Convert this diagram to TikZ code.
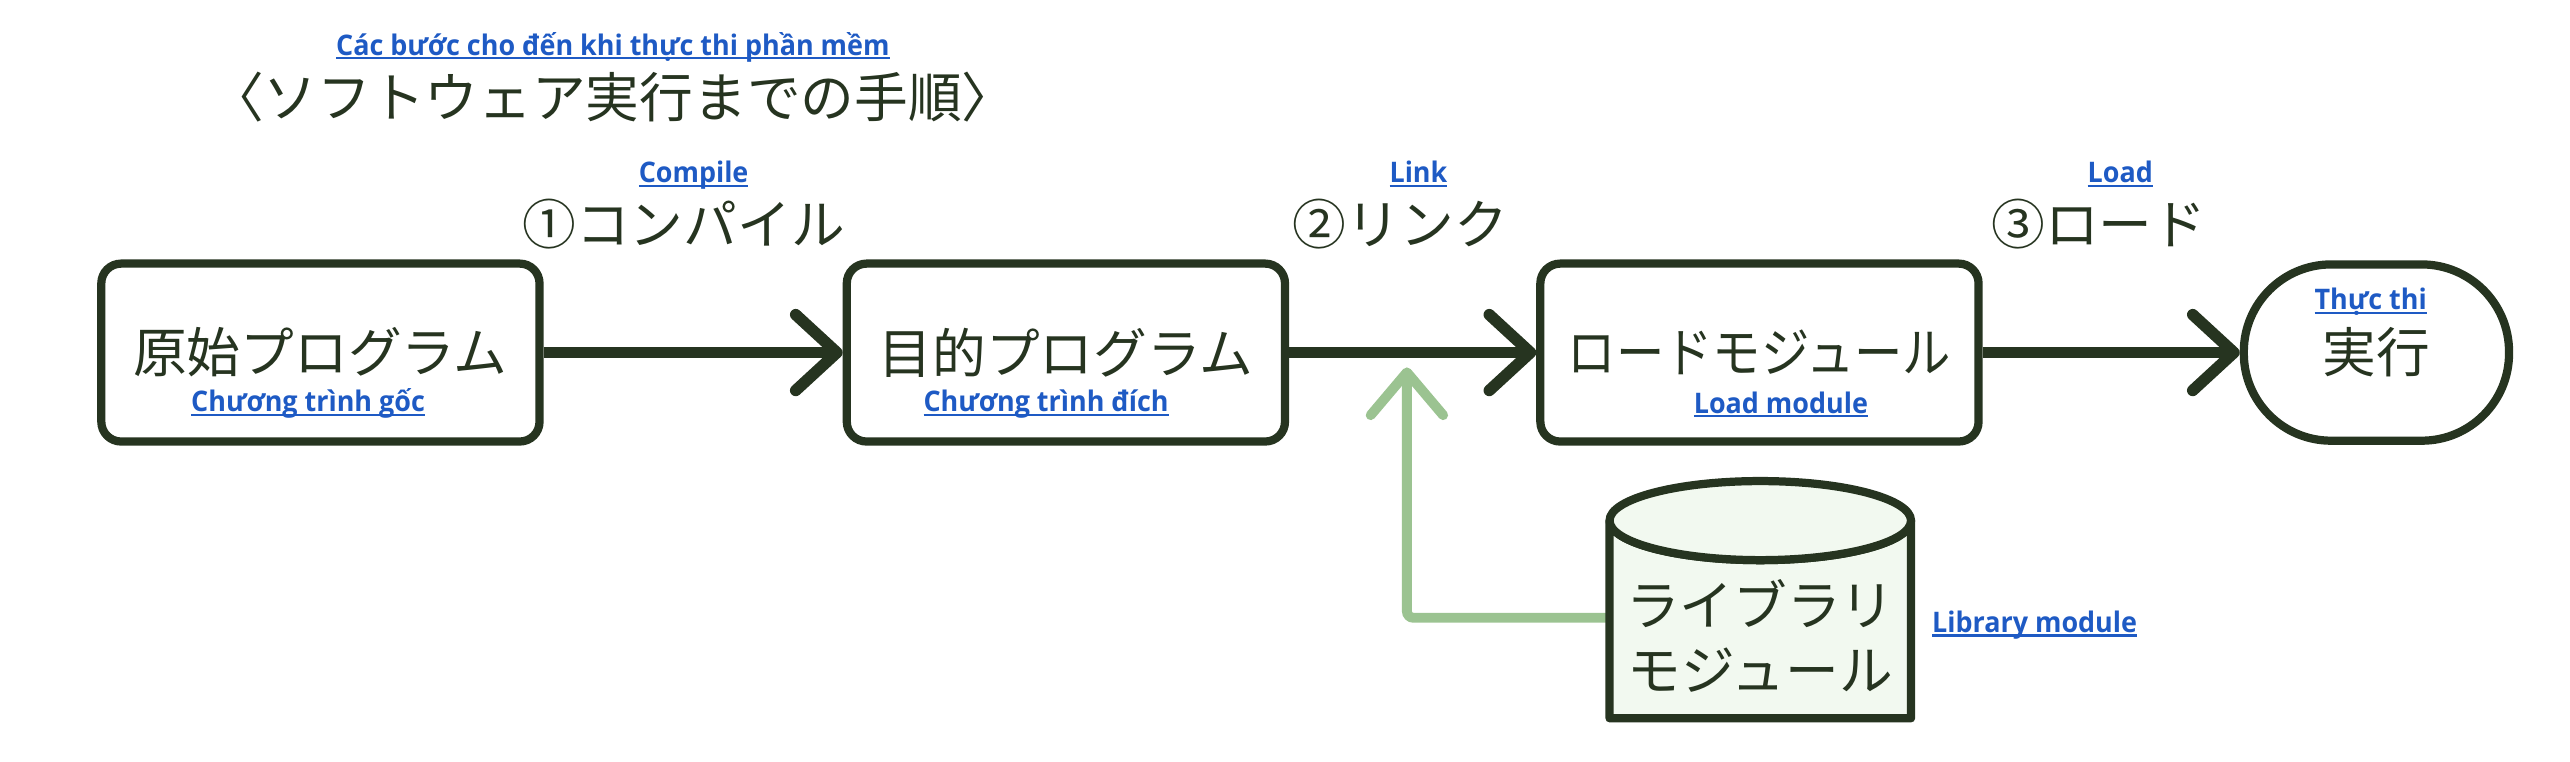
\documentclass[tikz,border=0pt]{standalone}
\usepackage{fontspec}
\usepackage{graphicx}
\usepackage{xcolor}
\usepackage{tikz}
\usetikzlibrary{arrows.meta,calc}
\newfontfamily\jpfont{Noto Sans CJK JP}
\newfontfamily\vnfont{Open Sans}
\definecolor{ink}{RGB}{38,52,32}
\definecolor{note}{RGB}{30,90,196}
\definecolor{linkgreen}{RGB}{155,195,145}
\definecolor{libfill}{RGB}{242,249,240}
\newcommand\ulnote[1]{\scalebox{0.95}[1]{\setbox0=\hbox{#1}\rlap{\rule[-1.2pt]{\wd0}{0.65pt}}\box0}}

\begin{document}
\begin{tikzpicture}[x=0.5pt,y=0.5pt,yscale=-1,xscale=1,
        stepbox/.style={draw=ink,line width=2.5pt,rounded corners=6pt,fill=white,text=ink,minimum width=133pt,minimum height=54pt,inner sep=0pt,font=\jpfont\fontsize{16.3}{20}\selectfont},
        runbox/.style={stepbox,minimum width=80.5pt,minimum height=53.5pt,rounded corners=26.5pt},
        jptext/.style={text=ink,inner sep=0pt,align=center,font=\jpfont\fontsize{16.3}{20}\selectfont},
        note/.style={text=note,inner sep=0pt,anchor=base,font=\vnfont\bfseries\fontsize{8.6}{10}\selectfont},
        flow/.style={draw=ink,line width=3.5pt,-{Straight Barb[length=12.5pt,width=23pt,round]}},
        linkflow/.style={draw=linkgreen,line width=3pt,rounded corners=2pt,-{Straight Barb[length=13pt,width=22pt,round]}},
        libdrum/.style={draw=ink,line width=2.5pt,fill=libfill,line join=round}]
        \useasboundingbox (0,0) rectangle (1560,462.5);
        
        \node[note] (titlevn) at (372,33.5) {\ulnote{Các bước cho đến khi thực thi phần mềm}};
        \node[jptext] (title) at (372,59) {〈ソフトウェア実行までの手順〉};
        
        \node[stepbox] (src) at (194.5,214) {原始プログラム};
        \node[stepbox] (obj) at (647,214) {目的プログラム};
        \node[stepbox] (load) at (1068,214) {\scalebox{0.9}[1]{ロードモジュール}};
        \node[runbox] (run) at (1442.5,214) {実行};
        \node[note] (srcvn) at (187,250) {\ulnote{Chương trình gốc}};
        \node[note] (objvn) at (635,250) {\ulnote{Chương trình đích}};
        \node[note] (loadvn) at (1081,251) {\ulnote{Load module}};
        \node[note] (runvn) at (1439,188) {\ulnote{Thực thi}};
        
        \node[jptext] (compilejp) at (415,136) {①コンパイル};
        \node[note] (compilevn) at (421,111) {\ulnote{Compile}};
        \node[jptext] (linkjp) at (850,136) {②リンク};
        \node[note] (linkvn) at (861,111) {\ulnote{Link}};
        \node[jptext] (loadjp) at (1274,136) {③ロード};
        \node[note] (loadstepvn) at (1287,111) {\ulnote{Load}};
        
        \draw[flow] (src) -- (obj);
        \draw[flow] (obj) -- (load);
        \draw[flow] (load) -- (run);
        
        \coordinate (libtop) at (1068.5,316);
        \coordinate (libbase) at (1068.5,436);
        \coordinate (libside) at ($(libbase)+(-91.5,-61)$);
        \coordinate (linkpt) at (854,223);
        \draw[linkflow] (libside) -| (linkpt);
        \draw[libdrum] ($(libtop)+(-91.5,0)$) -- ($(libbase)+(-91.5,0)$) -- ($(libbase)+(91.5,0)$) -- ($(libtop)+(91.5,0)$) arc[start angle=0,end angle=180,x radius=91.5,y radius=24] -- cycle;
        \draw[libdrum] (libtop) ellipse[x radius=91.5,y radius=24];
        \node[jptext] (lib) at (1068.5,386) {ライブラリ\\モジュール};
        \node[note] (libvn) at (1235,384) {\ulnote{Library module}};
    \end{tikzpicture}
\end{document}
